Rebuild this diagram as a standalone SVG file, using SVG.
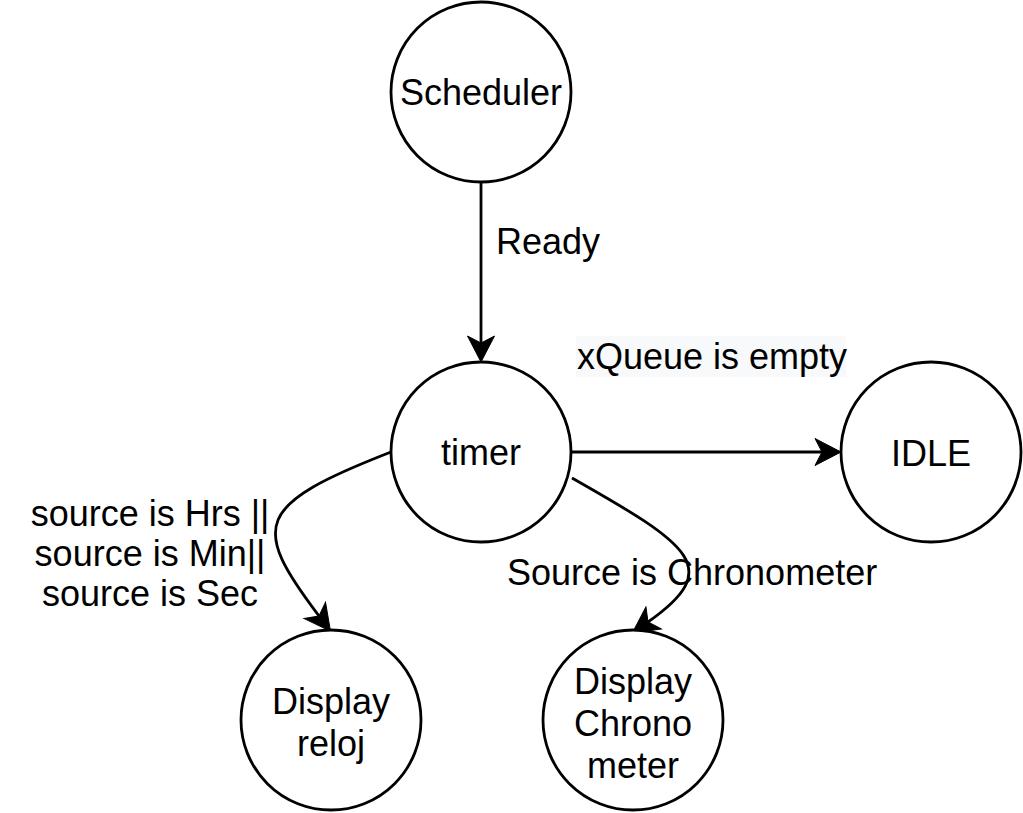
<svg xmlns="http://www.w3.org/2000/svg" width="1023" height="813" viewBox="0 0 1023 813">
  <style>
    .node circle { fill: #ffffff; stroke: #000000; stroke-width: 2.8; }
    text { font-family: "Liberation Sans", Arial, sans-serif; font-size: 36px; fill: #000000; }
    .c { text-anchor: middle; }
    .edge { fill: none; stroke: #000000; stroke-width: 2.8; }
  </style>
  <defs>
    <marker id="arrow" markerUnits="userSpaceOnUse" viewBox="-27 -15 30 30" refX="-19" refY="0" markerWidth="30" markerHeight="30" orient="auto">
      <path d="M0,0 L-26,-13.5 L-19,0 L-26,13.5 Z" fill="#000000" stroke="#000000" stroke-width="1" stroke-linejoin="miter"/>
    </marker>
  </defs>
  <rect width="1023" height="813" fill="#ffffff"/>

  <g id="connectors">
    <path class="edge" d="M481,182 L481,343" marker-end="url(#arrow)"/>
    <path class="edge" d="M571,452 L822,452" marker-end="url(#arrow)"/>
    <path class="edge" d="M391,452 C255,505 250,525 319,616" marker-end="url(#arrow)"/>
    <path class="edge" d="M572,478 C690,545 725,568 648,622" marker-end="url(#arrow)"/>
  </g>

  <g id="labels">
    <text x="496" y="254">Ready</text>
    <rect x="576" y="336" width="270" height="41" fill="#f8f9fa"/>
    <text x="577" y="369">xQueue is empty</text>
    <text class="c" x="150" y="526">source is Hrs ||</text>
    <text class="c" x="150" y="566">source is Min||</text>
    <text class="c" x="150" y="606">source is Sec</text>
    <text x="507" y="585">Source is Chronometer</text>
  </g>

  <g id="scheduler" class="node">
    <circle cx="481" cy="92" r="90"/>
    <text class="c" x="481" y="105">Scheduler</text>
  </g>
  <g id="timer" class="node">
    <circle cx="481" cy="452" r="90"/>
    <text class="c" x="481" y="465">timer</text>
  </g>
  <g id="idle" class="node">
    <circle cx="931" cy="452" r="90"/>
    <text class="c" x="931" y="466">IDLE</text>
  </g>
  <g id="display-reloj" class="node">
    <circle cx="331" cy="720" r="90"/>
    <text class="c" x="331" y="714">Display</text>
    <text class="c" x="331" y="756">reloj</text>
  </g>
  <g id="display-chronometer" class="node">
    <circle cx="633" cy="720" r="90"/>
    <text class="c" x="633" y="694">Display</text>
    <text class="c" x="633" y="736">Chrono</text>
    <text class="c" x="633" y="778">meter</text>
  </g>
</svg>
